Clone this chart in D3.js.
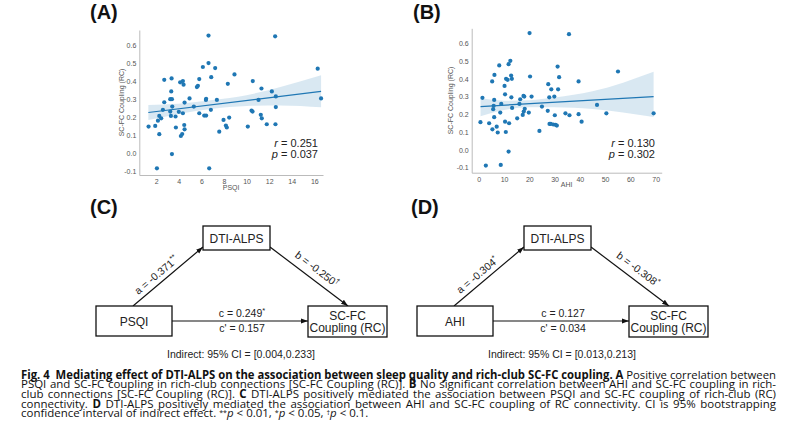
<!DOCTYPE html>
<html>
<head>
<meta charset="utf-8">
<title>DTI-ALPS mediation figure</title>
<script src="https://cdn.jsdelivr.net/npm/d3@7/dist/d3.min.js"></script>
<style>
  body { margin: 0; background: #fff; }
  svg { display: block; font-family: "Liberation Sans", Arial, sans-serif; }
  .tick text { fill: #555; font-size: 7px; }
  .domain { stroke: #bbb; }
  .axlab { fill: #555; font-size: 7px; }
  .stat { font-size: 11px; fill: #222; }
  .panel { font-size: 20px; font-weight: bold; fill: #111; }
  .box { fill: #fff; stroke: #111; stroke-width: 1.3; }
  .node { font-size: 12px; fill: #222; }
  .coef { font-size: 10.5px; fill: #222; }
  .cap { font-family: "Open Sans", "Noto Sans", sans-serif; font-size: 10px; fill: #111; }
</style>
</head>
<body>
<svg id="fig" width="788" height="435"></svg>
<script>
// (A) PSQI vs SC-FC coupling (RC)
var psqi = [1.32,1.91,2.06,2.15,2.27,2.27,2.44,2.59,2.71,2.71,3.36,3.24,3.39,3.33,3.24,3.30,3.42,3.39,3.74,3.71,
  4.0,4.12,4.36,4.42,4.51,4.36,4.18,4.30,4.48,4.51,4.95,5.33,5.60,5.69,5.81,5.81,6.13,6.25,6.40,6.42,
  6.42,6.63,6.63,6.69,6.87,6.84,7.22,7.37,7.58,7.96,8.17,8.25,8.34,8.46,8.93,10.11,10.44,10.53,10.55,11.06,
  11.26,11.32,11.35,11.79,12.24,12.53,12.56,12.59,12.59,16.3,16.6];
var couplingA = [0.148,0.152,-0.083,0.181,0.207,0.106,0.194,0.241,0.283,0.407,0.415,0.30,0.30,0.343,0.231,0.207,0.259,-0.004,0.143,0.204,
  0.23,0.393,0.40,0.38,0.281,0.222,0.096,0.107,0.157,0.133,0.304,0.259,0.367,0.374,0.411,0.222,0.478,0.209,0.296,0.302,
  0.209,0.652,0.50,-0.083,0.422,0.241,0.472,0.296,0.12,0.185,0.154,0.143,0.385,0.198,0.437,0.148,0.237,0.231,0.40,0.296,
  0.213,0.359,0.194,0.161,0.343,0.648,0.161,0.256,0.315,0.469,0.304];
var fitAX = [1.3, 16.6];
var fitAY = [0.226, 0.343];
var bandAX = [1.3, 4, 7, 10, 13, 16.6];
var bandALo = [0.184, 0.218, 0.247, 0.262, 0.265, 0.255];
var bandAHi = [0.268, 0.275, 0.295, 0.322, 0.368, 0.432];
var xTicksA = [2, 4, 6, 8, 10, 12, 14, 16];

// (B) AHI vs SC-FC coupling (RC)
var ahi = [0.66,1.45,2.8,4.1,5.3,5.4,5.7,5.9,6.1,6.2,6.1,7.1,7.5,8.1,8.5,8.7,8.9,10.2,10.4,10.4,
  10.7,10.8,11.4,11.8,11.8,12.0,12.5,12.8,13.1,12.9,13.2,15.2,16.1,16.4,17.7,18.0,17.4,17.8,18.2,19.8,
  20.1,20.3,20.9,24.0,25.0,27.5,27.3,27.9,28.0,28.7,28.5,29.5,29.9,30.1,30.4,30.9,31.2,31.4,31.8,34.3,
  35.7,35.9,39.5,39.5,40.7,46.8,50.5,55.1,69.2];
var couplingB = [0.156,0.293,-0.088,0.15,0.385,0.116,0.229,0.248,0.281,0.422,0.184,0.131,0.098,0.475,0.21,-0.084,0.259,0.36,0.313,0.159,
  0.101,0.40,0.394,-0.009,0.482,0.15,0.501,0.418,0.40,0.296,0.236,0.178,0.259,0.285,0.304,0.30,0.197,0.216,0.231,0.21,
  0.657,0.413,0.30,0.107,0.244,0.37,0.22,0.296,0.146,0.341,0.146,0.143,0.30,0.195,0.141,0.137,0.469,0.341,0.409,0.206,
  0.651,0.195,0.385,0.201,0.159,0.253,0.206,0.441,0.206];
var fitBX = [0.7, 69.2];
var fitBY = [0.244, 0.300];
var bandBX = [0.7, 10, 20, 30, 45, 69.2];
var bandBLo = [0.19, 0.225, 0.24, 0.24, 0.23, 0.185];
var bandBHi = [0.29, 0.277, 0.28, 0.295, 0.33, 0.44];
var xTicksB = [0, 10, 20, 30, 40, 50, 60, 70];

var yTicks = [-0.1, 0.0, 0.1, 0.2, 0.3, 0.4, 0.5, 0.6];

// (C) and (D) mediation models
var nodesC = ["PSQI", "DTI-ALPS", "SC-FC", "Coupling (RC)"];
var nodesD = ["AHI", "DTI-ALPS", "SC-FC", "Coupling (RC)"];
var coefC = [["a = -0.371", "**"], ["b = -0.250", "\u2020"], ["c = 0.249", "*"], ["c' = 0.157", ""]];
var coefD = [["a = -0.304", "*"], ["b = -0.308", "*"], ["c = 0.127", ""], ["c' = 0.034", ""]];
var indirectC = "Indirect: 95% CI = [0.004,0.233]";
var indirectD = "Indirect: 95% CI = [0.013,0.213]";

var captionLines = [
  [["Fig. 4", "b"], ["Mediating effect of DTI-ALPS on the association between sleep quality and rich-club SC-FC coupling. A", "b", 6], [" Positive correlation between", "n"]],
  [["PSQI and SC-FC coupling in rich-club connections [SC-FC Coupling (RC)]. ", "n"], ["B", "b"], [" No significant correlation between AHI and SC-FC coupling in rich-", "n"]],
  [["club connections [SC-FC Coupling (RC)]. ", "n"], ["C", "b"], [" DTI-ALPS positively mediated the association between PSQI and SC-FC coupling of rich-club (RC)", "n"]],
  [["connectivity. ", "n"], ["D", "b"], [" DTI-ALPS positively mediated the association between AHI and SC-FC coupling of RC connectivity. CI is 95% bootstrapping", "n"]],
  [["confidence interval of indirect effect. ", "n"], ["**", "s"], ["p", "i"], [" < 0.01, ", "n"], ["*", "s"], ["p", "i"], [" < 0.05, ", "n"], ["\u2020", "s"], ["p", "i"], [" < 0.1.", "n"]]
];

var blue = "#1f77b4";
var svg = d3.select("#fig");
svg.append("rect").attr("width", 788).attr("height", 435).attr("fill", "#fff");

var defs = svg.append("defs");
defs.append("marker").attr("id", "arr")
  .attr("viewBox", "0 0 10 10").attr("refX", 10).attr("refY", 5)
  .attr("markerUnits", "userSpaceOnUse").attr("markerWidth", 7).attr("markerHeight", 7)
  .attr("orient", "auto")
  .append("path").attr("d", "M0,1.5L10,5L0,8.5Z").attr("fill", "#111");

function scatterPanel(p) {
  var x = d3.scaleLinear().domain(p.xDomain).range(p.xRange);
  var y = d3.scaleLinear().domain(p.yDomain).range(p.yRange);
  var g = svg.append("g");

  g.append("g").attr("transform", "translate(0," + p.yRange[0] + ")")
    .call(d3.axisBottom(x).tickValues(p.xTicks).tickSize(0).tickPadding(4).tickSizeOuter(0));
  g.append("g").attr("transform", "translate(" + p.xRange[0] + ",0)")
    .call(d3.axisLeft(y).tickValues(yTicks).tickFormat(function(d) { return d.toFixed(1); })
      .tickSize(0).tickPadding(3).tickSizeOuter(0));

  var band = p.bandX.map(function(v, i) { return [v, p.bandLo[i], p.bandHi[i]]; });
  g.append("path").datum(band)
    .attr("fill", blue).attr("fill-opacity", 0.17)
    .attr("d", d3.area().curve(d3.curveMonotoneX)
      .x(function(d) { return x(d[0]); })
      .y0(function(d) { return y(d[1]); })
      .y1(function(d) { return y(d[2]); }));

  g.selectAll("circle.pt").data(p.xs).enter().append("circle")
    .attr("class", "pt")
    .attr("cx", function(d) { return x(d); })
    .attr("cy", function(d, i) { return y(p.ys[i]); })
    .attr("r", 2.1).attr("fill", blue);

  var fit = p.fitX.map(function(v, i) { return [v, p.fitY[i]]; });
  g.append("path").datum(fit)
    .attr("fill", "none").attr("stroke", blue).attr("stroke-width", 1.2)
    .attr("d", d3.line().x(function(d) { return x(d[0]); }).y(function(d) { return y(d[1]); }));

  var midY = (p.yRange[0] + p.yRange[1]) / 2;
  g.append("text").attr("class", "axlab")
    .attr("transform", "translate(" + p.yLabX + "," + midY + ") rotate(-90)")
    .attr("text-anchor", "middle").text("SC-FC Coupling (RC)");
  g.append("text").attr("class", "axlab")
    .attr("x", (p.xRange[0] + p.xRange[1]) / 2).attr("y", p.xLabY)
    .attr("text-anchor", "middle").text(p.xLabel);

  var r = g.append("text").attr("class", "stat").attr("text-anchor", "end")
    .attr("x", p.statX).attr("y", 146.5);
  r.append("tspan").attr("font-style", "italic").text("r");
  r.append("tspan").text(" = " + p.r);
  var pp = g.append("text").attr("class", "stat").attr("text-anchor", "end")
    .attr("x", p.statX).attr("y", 158);
  pp.append("tspan").attr("font-style", "italic").text("p");
  pp.append("tspan").text(" = " + p.p);

  svg.append("text").attr("class", "panel").attr("x", p.titleX).attr("y", 19).text(p.title);
}

scatterPanel({
  xs: psqi, ys: couplingA, fitX: fitAX, fitY: fitAY,
  bandX: bandAX, bandLo: bandALo, bandHi: bandAHi, xTicks: xTicksA,
  xDomain: [0.5, 16.77], xRange: [139.3, 323],
  yDomain: [-0.12, 0.683], yRange: [175, 30],
  yLabX: 124, xLabY: 190, xLabel: "PSQI",
  statX: 318, r: "0.251", p: "0.037", title: "(A)", titleX: 90
});
scatterPanel({
  xs: ahi, ys: couplingB, fitX: fitBX, fitY: fitBY,
  bandX: bandBX, bandLo: bandBLo, bandHi: bandBHi, xTicks: xTicksB,
  xDomain: [-2.8, 72.4], xRange: [471.7, 661.7],
  yDomain: [-0.128, 0.684], yRange: [172.7, 28.3],
  yLabX: 453, xLabY: 187, xLabel: "AHI",
  statX: 655, r: "0.130", p: "0.302", title: "(B)", titleX: 413
});

function supText(sel, pair) {
  sel.append("tspan").text(pair[0]);
  if (pair[1]) sel.append("tspan").attr("dy", -4).attr("font-size", "7.5px").text(pair[1]);
}

function mediation(dx, nodes, coef, indirect, title) {
  var g = svg.append("g").attr("transform", "translate(" + dx + ",0)");
  var X = {x: 96, y: 306, w: 76, h: 30};
  var M = {x: 203, y: 226, w: 67, h: 24};
  var Y = {x: 308, y: 306, w: 79, h: 31};

  var arrows = [
    [X.x + 37, X.y, M.x, M.y + 21],
    [M.x + M.w, M.y + 21, Y.x + 40, Y.y],
    [X.x + X.w, X.y + 15, Y.x, Y.y + 15]
  ];
  g.selectAll("line.arr").data(arrows).enter().append("line")
    .attr("x1", function(d) { return d[0]; }).attr("y1", function(d) { return d[1]; })
    .attr("x2", function(d) { return d[2]; }).attr("y2", function(d) { return d[3]; })
    .attr("stroke", "#111").attr("stroke-width", 1.2).attr("marker-end", "url(#arr)");

  [X, M, Y].forEach(function(b) {
    g.append("rect").attr("class", "box").attr("x", b.x).attr("y", b.y).attr("width", b.w).attr("height", b.h);
  });
  g.append("text").attr("class", "node").attr("text-anchor", "middle")
    .attr("x", X.x + X.w / 2).attr("y", X.y + X.h / 2 + 4.5).text(nodes[0]);
  g.append("text").attr("class", "node").attr("text-anchor", "middle")
    .attr("x", M.x + M.w / 2).attr("y", M.y + M.h / 2 + 4.5).text(nodes[1]);
  g.append("text").attr("class", "node").attr("text-anchor", "middle")
    .attr("x", Y.x + Y.w / 2).attr("y", Y.y + 13.5).text(nodes[2]);
  g.append("text").attr("class", "node").attr("text-anchor", "middle")
    .attr("x", Y.x + Y.w / 2).attr("y", Y.y + 26).text(nodes[3]);

  // slanted coefficient labels
  [[arrows[0], -8, 9], [arrows[1], 2, 11]].forEach(function(a, i) {
    var d = a[0], vx = d[2] - d[0], vy = d[3] - d[1], len = Math.hypot(vx, vy);
    var ux = vx / len, uy = vy / len;
    var nx = uy, ny = -ux;
    if (ny > 0) { nx = -nx; ny = -ny; }
    var cx = (d[0] + d[2]) / 2 + ux * a[1] + nx * a[2];
    var cy = (d[1] + d[3]) / 2 + uy * a[1] + ny * a[2];
    var ang = Math.atan2(vy, vx) * 180 / Math.PI;
    var t = g.append("text").attr("class", "coef").attr("text-anchor", "middle")
      .attr("transform", "translate(" + cx + "," + cy + ") rotate(" + ang + ")")
      .attr("y", 4);
    supText(t, coef[i]);
  });

  var c1 = g.append("text").attr("class", "coef").attr("text-anchor", "middle")
    .attr("x", 242).attr("y", 316.5);
  supText(c1, coef[2]);
  var c2 = g.append("text").attr("class", "coef").attr("text-anchor", "middle")
    .attr("x", 242).attr("y", 332);
  supText(c2, coef[3]);

  g.append("text").attr("class", "coef").attr("text-anchor", "middle")
    .attr("x", 241).attr("y", 358).text(indirect);

  svg.append("text").attr("class", "panel").attr("x", 90 + dx).attr("y", 214).text(title);
}

mediation(0, nodesC, coefC, indirectC, "(C)");
mediation(321, nodesD, coefD, indirectD, "(D)");

// caption: font sized from the plain-text lines, then each line justified
var capLeft = 21, capRight = 776, capTop = 378.5, capStep = 9.7;
var capW = capRight - capLeft;
var capTexts = captionLines.map(function(segs, i) {
  var t = svg.append("text").attr("class", "cap").attr("x", capLeft).attr("y", capTop + i * capStep);
  var shifted = false;
  segs.forEach(function(s) {
    var ts = t.append("tspan").text(s[0]);
    if (s[1] === "b") ts.attr("font-weight", "bold");
    if (s[1] === "i") ts.attr("font-style", "italic");
    if (s[2]) ts.attr("dx", s[2]);
    if (s[1] === "s") { ts.attr("dy", -2).attr("font-size", "0.62em"); shifted = true; }
    else if (shifted) { ts.attr("dy", 2); shifted = false; }
  });
  return t;
});
var widest = d3.max([1, 2, 3], function(i) { return capTexts[i].node().getComputedTextLength(); });
var fs = Math.max(9, Math.min(11.5, 10 * capW * 0.985 / widest));
capTexts.forEach(function(t, i) {
  t.style("font-size", fs + "px");
  if (i === capTexts.length - 1) return;
  var w = t.node().getComputedTextLength();
  if (w > capW) {
    t.attr("textLength", capW).attr("lengthAdjust", "spacingAndGlyphs");
  } else {
    var full = captionLines[i].map(function(s) { return s[0]; }).join("");
    var n = (full.match(/ /g) || []).length;
    t.attr("word-spacing", (capW - w) / n);
  }
});
</script>
</body>
</html>
